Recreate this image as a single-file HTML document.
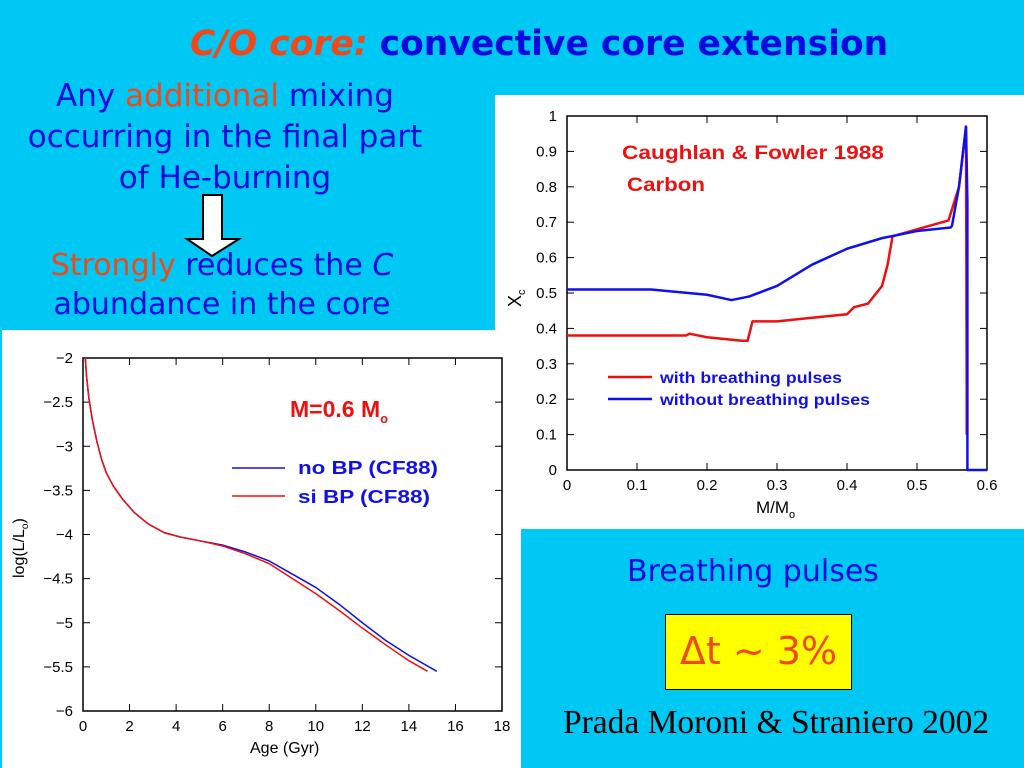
<!DOCTYPE html>
<html><head><meta charset="utf-8"><style>
body{margin:0;width:1024px;height:768px;background:#00c8f5;position:relative;overflow:hidden;font-family:"DejaVu Sans","Liberation Sans",sans-serif}
.t{position:absolute;white-space:nowrap}
.b{color:#0a0ae0}.r{color:#f04818}
</style></head><body>
<div class="t" style="left:190px;top:24px;font-size:34.5px;font-weight:bold;font-style:italic"><span class="r">C/O core:</span> <span class="b" style="font-style:normal">convective core extension</span></div>
<div class="t b" style="left:0;width:450px;top:76px;font-size:31px;line-height:41px;text-align:center;white-space:normal">Any <span class="r">additional</span> mixing<br>occurring in the final part<br>of He-burning</div>
<svg style="position:absolute;left:180px;top:193px" width="72" height="66"><polygon points="17,2 36,2 36,46 53,46 26,63 1,46 17,46" transform="translate(6,0)" fill="#fff" stroke="#000" stroke-width="2"/></svg>
<div class="t b" style="left:0;width:444px;top:246px;font-size:30px;line-height:39px;text-align:center;white-space:normal"><span class="r">Strongly</span> reduces the <i>C</i><br>abundance in the core</div>
<div style="position:absolute;left:495px;top:95px;width:529px;height:434px;background:#fff"></div>
<div style="position:absolute;left:2px;top:330px;width:519px;height:438px;background:#fff"></div>
<div style="position:absolute;left:521px;top:529px;width:503px;height:239px;background:#00c8f5"></div>
<div class="t b" style="left:627px;top:554px;font-size:30px">Breathing pulses</div>
<div style="position:absolute;left:665px;top:614px;width:187px;height:76px;background:#ffff00;border:1.5px solid #000;box-sizing:border-box;text-align:center;line-height:72px;font-size:38px;color:#f04818">Δt ~ 3%</div>
<div class="t" style="left:563px;top:704px;font-family:'Liberation Serif',serif;font-size:33.5px;color:#000">Prada Moroni &amp; Straniero 2002</div>
<svg id="c1" style="position:absolute;left:0;top:0" width="1024" height="768"></svg>
<script>
const rX=[0,0.12,0.17,0.175,0.2,0.25,0.258,0.265,0.3,0.35,0.4,0.41,0.43,0.45,0.458,0.465,0.5,0.545,0.56,0.57,0.571,0.571];
const rY=[0.38,0.38,0.38,0.385,0.375,0.365,0.365,0.42,0.42,0.43,0.44,0.46,0.47,0.52,0.58,0.66,0.68,0.705,0.8,0.97,0.2,0.1];
const bX=[0,0.12,0.2,0.235,0.26,0.3,0.35,0.4,0.45,0.5,0.548,0.55,0.56,0.57,0.572,0.572,0.6];
const bY=[0.51,0.51,0.495,0.48,0.49,0.52,0.58,0.625,0.655,0.675,0.685,0.69,0.8,0.97,0.76,0,0];
const rxTicks=[0,0.1,0.2,0.3,0.4,0.5,0.6];
const ryTicks=[0,0.1,0.2,0.3,0.4,0.5,0.6,0.7,0.8,0.9,1];
const ageBlue=[0.1,0.15,0.25,0.4,0.6,0.8,1,1.3,1.7,2.2,2.8,3.5,4.2,5,6,7,8,9,10,11,12,13,14,15.2];
const lumBlue=[-2,-2.2,-2.45,-2.7,-2.95,-3.15,-3.3,-3.45,-3.6,-3.75,-3.88,-3.98,-4.03,-4.07,-4.12,-4.2,-4.3,-4.45,-4.6,-4.79,-5,-5.2,-5.37,-5.55];
const ageRed=[0.1,0.15,0.25,0.4,0.6,0.8,1,1.3,1.7,2.2,2.8,3.5,4.2,5,6,7,8,9,10,11,12,13,14,14.8];
const lumRed=[-2,-2.2,-2.45,-2.7,-2.95,-3.15,-3.3,-3.45,-3.6,-3.75,-3.88,-3.98,-4.03,-4.07,-4.13,-4.22,-4.33,-4.5,-4.67,-4.86,-5.06,-5.25,-5.43,-5.55];
const lxTicks=[0,2,4,6,8,10,12,14,16,18];
const lyTicks=[-2,-2.5,-3,-3.5,-4,-4.5,-5,-5.5,-6];
const svg=document.getElementById('c1');const NS='http://www.w3.org/2000/svg';
function mk(t,a,p){const e=document.createElementNS(NS,t);for(const k in a)e.setAttribute(k,a[k]);(p||svg).appendChild(e);return e;}
function chart(x0,x1,y0,y1,xmin,xmax,ymin,ymax,xt,yt,name){
 const sx=v=>x0+(v-xmin)/(xmax-xmin)*(x1-x0), sy=v=>y1-(v-ymin)/(ymax-ymin)*(y1-y0);
 const f=mk('rect',{x:x0,y:y0,width:x1-x0,height:y1-y0,fill:'none',stroke:'#000','stroke-width':1.5});
 
 
 xt.forEach(v=>{const x=sx(v);mk('line',{x1:x,x2:x,y1:y1,y2:y1-7,stroke:'#000'});mk('line',{x1:x,x2:x,y1:y0,y2:y0+7,stroke:'#000'});
  const t=mk('text',{x:x,y:y1+20,'text-anchor':'middle','font-size':15,'font-family':'Liberation Sans'});t.textContent=String(v);
  
  });
 yt.forEach(v=>{const y=sy(v);mk('line',{x1:x0,x2:x0+7,y1:y,y2:y,stroke:'#000'});mk('line',{x1:x1,x2:x1-7,y1:y,y2:y,stroke:'#000'});
  const t=mk('text',{x:x0-10,y:y+5,'text-anchor':'end','font-size':15,'font-family':'Liberation Sans'});t.textContent=String(v).replace('-','−');
  
  });
 return {sx,sy};}
function line(c,xs,ys,col,w,name){const p=mk('polyline',{points:xs.map((x,i)=>c.sx(x)+','+c.sy(ys[i])).join(' '),fill:'none',stroke:col,'stroke-width':w,'stroke-linejoin':'round'});
 
 }
const A=chart(567,987,116,470,0,0.6,0,1,rxTicks,ryTicks,'carbon');
line(A,rX,rY,'#ee1010',2.5,'with-bp-line');
line(A,bX,bY,'#1010ee',2.5,'without-bp-line');
const B=chart(83,502,358,711,0,18,-6,-2,lxTicks,lyTicks,'lum');
line(B,ageBlue,lumBlue,'#1010dd',1.5,'no-bp-line');
line(B,ageRed,lumRed,'#ee1010',1.5,'si-bp-line');
function tx(x,y,s,col,sz,name,extra){const t=mk('text',Object.assign({x:x,y:y,fill:col,'font-size':sz,'font-family':'Liberation Sans','font-weight':'bold'},extra||{}));t.innerHTML=s;
 
 }
tx(622,159,'Caughlan &amp; Fowler 1988','#ee1010',19,'reaction-rate-label',{textLength:262,lengthAdjust:'spacingAndGlyphs'});
tx(627,191,'Carbon','#ee1010',19,'element-label',{textLength:78,lengthAdjust:'spacingAndGlyphs'});
mk('line',{x1:608,x2:652,y1:377,y2:377,stroke:'#ee1010','stroke-width':2.5});
mk('line',{x1:608,x2:652,y1:399,y2:399,stroke:'#1010ee','stroke-width':2.5});
tx(660,383,'with breathing pulses','#1010ee',16,'legend-with-bp',{textLength:182,lengthAdjust:'spacingAndGlyphs'});
tx(660,405,'without breathing pulses','#1010ee',16,'legend-without-bp',{textLength:210,lengthAdjust:'spacingAndGlyphs'});
tx(756,513,'M/M<tspan font-size="11" dy="5">o</tspan>','#000',17,'carbon-x-axis-title',{'font-weight':'normal'});
tx(0,0,'X<tspan font-size="11" dy="4">c</tspan>','#000',18,'carbon-y-axis-title',{'font-weight':'normal',transform:'translate(521,307) rotate(-90)'});
tx(290,417,'M=0.6 M<tspan font-size="13" dy="6">o</tspan>','#ee1010',23,'mass-label');
mk('line',{x1:232,x2:285,y1:468,y2:468,stroke:'#1010dd','stroke-width':1.5});
mk('line',{x1:232,x2:285,y1:496,y2:496,stroke:'#ee1010','stroke-width':1.5});
tx(298,474,'no BP (CF88)','#1010ee',18,'legend-no-bp',{textLength:140,lengthAdjust:'spacingAndGlyphs'});
tx(298,503,'si BP (CF88)','#1010ee',18,'legend-si-bp',{textLength:132,lengthAdjust:'spacingAndGlyphs'});
tx(250,753,'Age (Gyr)','#000',16,'lum-x-axis-title',{'font-weight':'normal'});
tx(0,0,'log(L/L<tspan font-size="10" dy="4">o</tspan><tspan dy="-4">)</tspan>','#000',16,'lum-y-axis-title',{'font-weight':'normal',transform:'translate(24,578) rotate(-90)'});
</script>
</body></html>
